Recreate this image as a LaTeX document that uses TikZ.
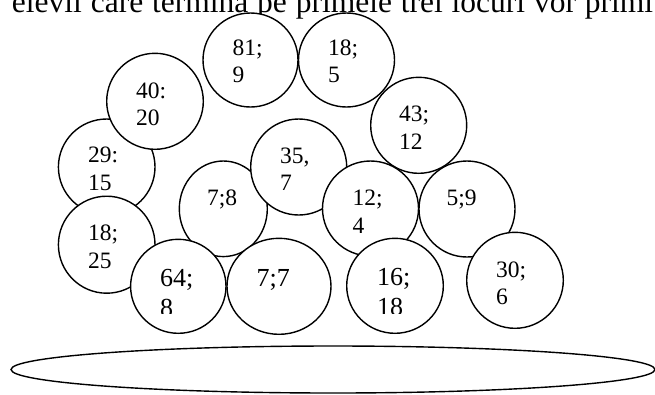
\documentclass[tikz,border=0pt]{standalone}
\usepackage{fontspec}
\setmainfont{Liberation Serif}
\usetikzlibrary{shapes.geometric}
\newcommand\tworows[2]{\vtop{\hbox{#1}\hbox{#2}}}
\begin{document}
\begin{tikzpicture}[x=1pt,y=-1pt,
  bubble/.style={ellipse, draw=black, fill=white, line width=1.4pt, inner sep=0pt, outer sep=0pt},
  num/.style={anchor=base west, inner sep=0pt, outer sep=0pt, font=\fontsize{23.5}{27.5}\selectfont},
  bignum/.style={anchor=base west, inner sep=0pt, outer sep=0pt, font=\fontsize{26}{29.5}\selectfont},
  headline/.style={anchor=base west, inner sep=0pt, outer sep=0pt, font=\fontsize{31.5}{36}\selectfont}]
\clip (0,0) rectangle (655,394);
\fill[white] (0,0) rectangle (655,394);
% clipped heading line
\node[headline] (head) at (12,12) {\makebox[641pt][s]{elevii care termina pe primele trei locuri vor primi}};
% bubbles
\node[bubble, minimum width=96.6pt, minimum height=96pt] (c5) at (106.7,167) {};
\node[bubble, minimum width=96.6pt, minimum height=96pt] (c3) at (155,101.3) {};
\node[bubble, minimum width=96.6pt, minimum height=97pt] (c10) at (106.7,244.7) {};
\node[bubble, minimum width=95pt, minimum height=94pt] (c1) at (250.5,60) {};
\node[bubble, minimum width=96pt, minimum height=94pt] (c2) at (346.5,60) {};
\node[bubble, minimum width=96pt, minimum height=96pt] (c4) at (418.7,125.3) {};
\node[bubble, minimum width=88pt, minimum height=95.6pt] (c7) at (223.3,208.8) {};
\node[bubble, minimum width=96pt, minimum height=96pt] (c6) at (298.7,167) {};
\node[bubble, minimum width=96pt, minimum height=95pt] (c8) at (370.5,208.5) {};
\node[bubble, minimum width=96pt, minimum height=96pt] (c9) at (467,209) {};
\node[bubble, minimum width=95.4pt, minimum height=94pt] (c11) at (178.3,286.3) {};
\node[bubble, minimum width=104pt, minimum height=96pt] (c12) at (279,286.3) {};
\node[bubble, minimum width=96.6pt, minimum height=95pt] (c13) at (395,285.8) {};
\node[bubble, minimum width=96.6pt, minimum height=96pt] (c14) at (515,280.3) {};
\node[bubble, minimum width=644pt, minimum height=47pt] (tray) at (333,369.5) {};
% labels
\node[num] (t1) at (232.7,55.3) {\tworows{81;}{9}};
\node[num] (t2) at (328,55.3) {\tworows{18;}{5}};
\node[num] (t3) at (136,98.3) {\tworows{40:}{20}};
\node[num] (t4) at (399,121.8) {\tworows{43;}{12}};
\node[num] (t5) at (88,162.8) {\tworows{29:}{15}};
\node[num] (t6) at (280,163) {\tworows{35,}{7}};
\node[num] (t7) at (207,205.8) {7;8};
\node[num] (t8) at (352.7,205.8) {\tworows{12;}{4}};
\node[num] (t9) at (446.7,205.8) {5;9};
\node[num] (t10) at (88,240.8) {\tworows{18;}{25}};
\node[bignum] (t12) at (256.7,286.8) {7;7};
\node[num] (t14) at (496,277.3) {\tworows{30;}{6}};
\begin{scope}
  \clip (0,0) rectangle (655,313.3);
  \node[bignum] (t11) at (160,286.8) {\tworows{64;}{8}};
  \node[bignum] (t13) at (377,285.8) {\tworows{16;}{18}};
\end{scope}
\end{tikzpicture}
\end{document}
